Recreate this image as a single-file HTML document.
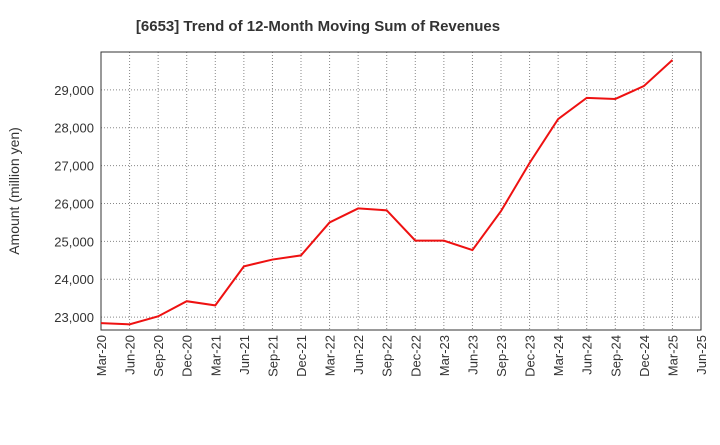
<!DOCTYPE html>
<html><head><meta charset="utf-8"><style>
body{margin:0;background:#fff;font-family:"Liberation Sans",sans-serif;}
svg text{font-family:"Liberation Sans",sans-serif;}
</style></head><body>
<svg id="chart" width="720" height="440" xmlns="http://www.w3.org/2000/svg">
<text x="318" y="31" text-anchor="middle" font-size="15" font-weight="bold" fill="#333">[6653]  Trend of 12-Month Moving Sum of Revenues</text>
<text transform="translate(19,191) rotate(-90)" text-anchor="middle" font-size="14" fill="#333">Amount (million yen)</text>
<g id="grid"></g><g id="axes"></g><g id="series"></g>
</svg>
<script>
const categories=["Mar-20","Jun-20","Sep-20","Dec-20","Mar-21","Jun-21","Sep-21","Dec-21","Mar-22","Jun-22","Sep-22","Dec-22","Mar-23","Jun-23","Sep-23","Dec-23","Mar-24","Jun-24","Sep-24","Dec-24","Mar-25","Jun-25"];
const revenues=[22840,22810,23020,23420,23310,24340,24520,24630,25500,25870,25820,25020,25020,24770,25800,27070,28230,28790,28760,29100,29790];
const yTicks=[23000,24000,25000,26000,27000,28000,29000];
const NS="http://www.w3.org/2000/svg";
const L=101,R=701,T=52,B=330,yMin=22660,yMax=30000;
const x=i=>L+(R-L)*i/(categories.length-1);
const y=v=>B-(v-yMin)/(yMax-yMin)*(B-T);
function mk(tag,attrs,parent){const e=document.createElementNS(NS,tag);for(const k in attrs)e.setAttribute(k,attrs[k]);parent.appendChild(e);return e;}
const grid=document.getElementById('grid'),axes=document.getElementById('axes'),series=document.getElementById('series');
categories.forEach((c,i)=>{
 const g=mk('line',{x1:x(i),x2:x(i),y1:T,y2:B,stroke:'#888','stroke-dasharray':'1,2','stroke-width':1},grid);
 
 
 const t=mk('text',{transform:`translate(${x(i)+5},${B+5}) rotate(-90)`,'text-anchor':'end','font-size':13,fill:'#333'},axes);
 t.textContent=c;
 
 
});
yTicks.forEach(v=>{
 const g=mk('line',{x1:L,x2:R,y1:y(v),y2:y(v),stroke:'#888','stroke-dasharray':'1,2','stroke-width':1},grid);
 
 
 const t=mk('text',{x:L-7,y:y(v)+5,'text-anchor':'end','font-size':13,fill:'#333'},axes);
 t.textContent=v.toLocaleString('en-US');
 
 
});
const f=mk('rect',{x:L,y:T,width:R-L,height:B-T,fill:'none',stroke:'#333','stroke-width':1},axes);


const p=mk('polyline',{points:revenues.map((v,i)=>x(i)+','+y(v)).join(' '),fill:'none',stroke:'#ee1111','stroke-width':2},series);


</script>
</body></html>
